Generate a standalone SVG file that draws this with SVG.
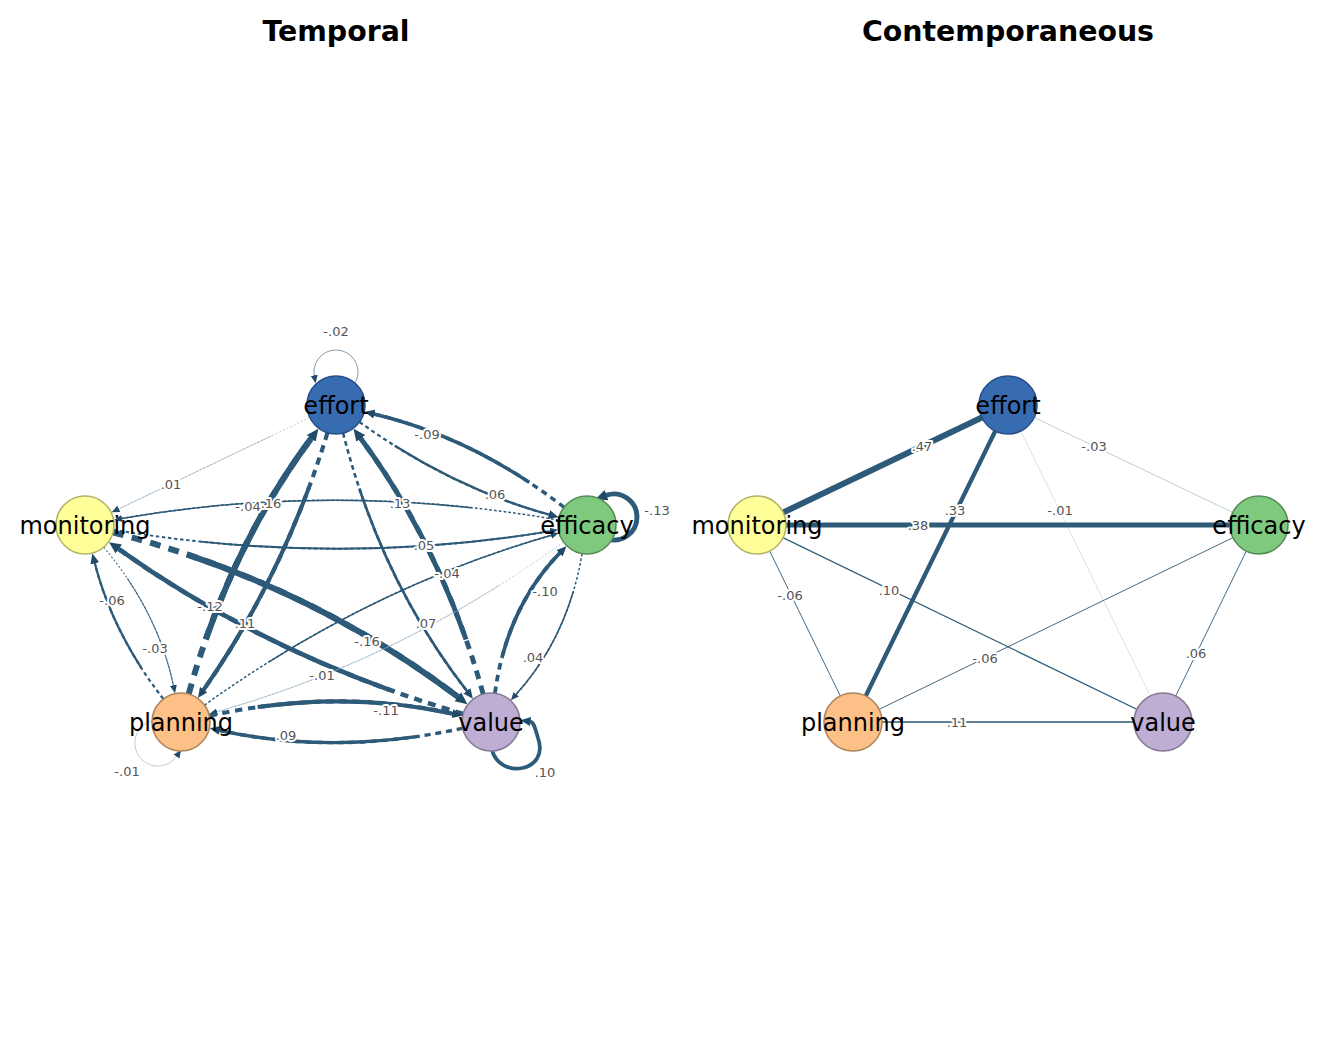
<svg xmlns="http://www.w3.org/2000/svg" width="1344" height="1056" viewBox="0 0 1344 1056">
<style>
.e{fill:none;stroke:#2d5a78;stroke-linecap:butt}
.l1{stroke:#8fa9bc}
.l2{stroke:#5f819b}
.l3{stroke:#46708d}
.l0{stroke:#c3ccd4}
.s20{stroke-dasharray:0 20 80 0}
.s25{stroke-dasharray:0 25 75 0}
.el{font-family:'DejaVu Sans',sans-serif;font-size:13px;fill:#555;text-anchor:middle;stroke:#fff;stroke-width:4px;stroke-linejoin:round;paint-order:stroke}
.nl{font-family:'DejaVu Sans',sans-serif;font-size:24px;fill:#000;text-anchor:middle}
.title{font-family:'DejaVu Sans',sans-serif;font-weight:bold;font-size:28.4px;text-anchor:middle;fill:#000}
.node{stroke-width:1.6}
</style>
<defs>
<marker id="a1" markerUnits="userSpaceOnUse" markerWidth="8" markerHeight="8" viewBox="0 0 8 8" refX="0.5" refY="4" orient="auto"><path d="M0,0.5 L8,4 L0,7.5 z" fill="#1f4a68"/></marker>
<marker id="a2" markerUnits="userSpaceOnUse" markerWidth="10" markerHeight="10" viewBox="0 0 10 10" refX="0.5" refY="5" orient="auto"><path d="M0,0.5 L10,5 L0,9.5 z" fill="#1f4a68"/></marker>
<marker id="a3" markerUnits="userSpaceOnUse" markerWidth="12" markerHeight="12" viewBox="0 0 12 12" refX="0.5" refY="6" orient="auto"><path d="M0,0.5 L12,6 L0,11.5 z" fill="#1f4a68"/></marker>
</defs>
<rect width="1344" height="1056" fill="#fff"/>
<text class="title" x="336" y="41">Temporal</text>
<text class="title" x="1008" y="41">Contemporaneous</text>

<g id="temporal-connectors">
  <!-- E->M .01 -->
  <path class="e l1" d="M309.8,417.5 L118.4,509.1" stroke-width="0.6" stroke-dasharray="2 2"/>
  <path class="e l1 s20" pathLength="100" d="M309.8,417.5 L118.4,509.1" stroke-width="0.6" marker-end="url(#a1)"/>
  <!-- F->M -.04 -->
  <path class="e" d="M558.4,520 Q336,481 121.4,518.6" stroke-width="1.5" stroke-dasharray="2.7 2.1"/>
  <path class="e s20" pathLength="100" d="M558.4,520 Q336,481 121.4,518.6" stroke-width="1.5" marker-end="url(#a1)"/>
  <!-- M->F .05 -->
  <path class="e" d="M113.6,529.8 Q336,567 550.5,531.1" stroke-width="1.9" stroke-dasharray="3.4 2.7"/>
  <path class="e s20" pathLength="100" d="M113.6,529.8 Q336,567 550.5,531.1" stroke-width="1.9" marker-end="url(#a1)"/>
  <!-- P->E .16 -->
  <path class="e" d="M188.7,694 Q228.9,549 311.5,437.9" stroke-width="6" stroke-dasharray="10.8 8.4"/>
  <path class="e s20" pathLength="100" d="M188.7,694 Q228.9,549 311.5,437.9" stroke-width="6" marker-end="url(#a3)"/>
  <!-- E->P .11 -->
  <path class="e" d="M327.5,432.7 Q283.6,575.8 203.4,690.1" stroke-width="4.1" stroke-dasharray="7.4 5.7"/>
  <path class="e s20" pathLength="100" d="M327.5,432.7 Q283.6,575.8 203.4,690.1" stroke-width="4.1" marker-end="url(#a2)"/>
  <!-- V->E .13 -->
  <path class="e" d="M483.2,694.1 Q442.8,549.2 360.4,438" stroke-width="4.9" stroke-dasharray="8.8 6.9"/>
  <path class="e s20" pathLength="100" d="M483.2,694.1 Q442.8,549.2 360.4,438" stroke-width="4.9" marker-end="url(#a3)"/>
  <!-- E->V .07 -->
  <path class="e" d="M343.1,433.1 Q380.3,579.7 467.1,691.2" stroke-width="2.6" stroke-dasharray="4.7 3.6"/>
  <path class="e s20" pathLength="100" d="M343.1,433.1 Q380.3,579.7 467.1,691.2" stroke-width="2.6" marker-end="url(#a2)"/>
  <!-- F->E -.09 -->
  <path class="e" d="M564.1,507.3 Q474.4,437.9 373.9,414" stroke-width="3.4" stroke-dasharray="6.1 4.8"/>
  <path class="e s20" pathLength="100" d="M564.1,507.3 Q474.4,437.9 373.9,414" stroke-width="3.4" marker-end="url(#a2)"/>
  <!-- E->F .06 -->
  <path class="e" d="M359.5,422 Q450.7,487.6 549.4,514.7" stroke-width="2.25" stroke-dasharray="4 3.2"/>
  <path class="e s20" pathLength="100" d="M359.5,422 Q450.7,487.6 549.4,514.7" stroke-width="2.25" marker-end="url(#a2)"/>
  <!-- M->V -.16 -->
  <path class="e" d="M113.1,532.3 Q307.7,583 458.3,697.2" stroke-width="6" stroke-dasharray="10.8 8.4"/>
  <path class="e s20" pathLength="100" d="M113.1,532.3 Q307.7,583 458.3,697.2" stroke-width="6" marker-end="url(#a3)"/>
  <!-- V->M -.12 -->
  <path class="e" d="M463.2,713.9 Q271.4,657.7 118.4,548.8" stroke-width="4.5" stroke-dasharray="8.1 6.3"/>
  <path class="e s20" pathLength="100" d="M463.2,713.9 Q271.4,657.7 118.4,548.8" stroke-width="4.5" marker-end="url(#a3)"/>
  <!-- P->M -.06 -->
  <path class="e" d="M163.3,699 Q112.7,633.4 94.7,562.8" stroke-width="2.25" stroke-dasharray="4 3.2"/>
  <path class="e s25" pathLength="100" d="M163.3,699 Q112.7,633.4 94.7,562.8" stroke-width="2.25" marker-end="url(#a2)"/>
  <!-- M->P -.03 -->
  <path class="e l3" d="M103.7,547.2 Q157.9,611.4 173.5,685.8" stroke-width="1.1" stroke-dasharray="2 2"/>
  <path class="e l3 s25" pathLength="100" d="M103.7,547.2 Q157.9,611.4 173.5,685.8" stroke-width="1.1" marker-end="url(#a1)"/>
  <!-- P->F -.04 -->
  <path class="e" d="M204.5,705.1 Q367,588.4 551.4,535.2" stroke-width="1.5" stroke-dasharray="2.7 2.1"/>
  <path class="e s20" pathLength="100" d="M204.5,705.1 Q367,588.4 551.4,535.2" stroke-width="1.5" marker-end="url(#a1)"/>
  <!-- F->P -.01 -->
  <path class="e l1" d="M563.5,542 Q401.5,659.5 216.6,711.9" stroke-width="0.6" stroke-dasharray="2 2"/>
  <path class="e l1 s20" pathLength="100" d="M563.5,542 Q401.5,659.5 216.6,711.9" stroke-width="0.6" marker-end="url(#a1)"/>
  <!-- V->F -.10 -->
  <path class="e" d="M494.9,693.3 Q506.6,607.7 559.8,553" stroke-width="3.75" stroke-dasharray="6.75 5.25"/>
  <path class="e s25" pathLength="100" d="M494.9,693.3 Q506.6,607.7 559.8,553" stroke-width="3.75" marker-end="url(#a2)"/>
  <!-- F->V .04 -->
  <path class="e" d="M582.1,553.6 Q567.8,637.5 515.9,694.6" stroke-width="1.5" stroke-dasharray="2.7 2.1"/>
  <path class="e s25" pathLength="100" d="M582.1,553.6 Q567.8,637.5 515.9,694.6" stroke-width="1.5" marker-end="url(#a1)"/>
  <!-- P->V -.11 -->
  <path class="e" d="M209.3,715.8 Q336,688 452.9,713.7" stroke-width="4.1" stroke-dasharray="7.4 5.7"/>
  <path class="e s20" pathLength="100" d="M209.3,715.8 Q336,688 452.9,713.7" stroke-width="4.1" marker-end="url(#a2)"/>
  <!-- V->P .09 -->
  <path class="e" d="M462.7,728.2 Q336,756 219.1,730.3" stroke-width="3.4" stroke-dasharray="6.1 4.8"/>
  <path class="e s20" pathLength="100" d="M462.7,728.2 Q336,756 219.1,730.3" stroke-width="3.4" marker-end="url(#a2)"/>
  <!-- self loops -->
  <path class="e l2" d="M352.9,386.1 A22,22 0 1 0 314.3,375.8" stroke-width="0.8" marker-end="url(#a1)"/>
  <path class="e" d="M606.1,538.6 A23,23 0 1 0 606.1,495.4" stroke-width="4.9" marker-end="url(#a3)"/>
  <path class="e l1" d="M154,720.4 A23,23 0 1 0 176.8,756.2" stroke-width="0.6" marker-end="url(#a1)"/>
  <path class="e" d="M492,750 C500,780 550,772 538,738 C535,728 534,722 530,721.5" stroke-width="3.75" marker-end="url(#a2)"/>
</g>

<g id="temporal-edge-labels">
  <text class="el" x="336" y="335.5">-.02</text>
  <text class="el" x="171" y="488.5">.01</text>
  <text class="el" x="248" y="510.5">-.04</text>
  <text class="el" x="271" y="507.5">.16</text>
  <text class="el" x="400" y="507.5">.13</text>
  <text class="el" x="427" y="438.5">-.09</text>
  <text class="el" x="495" y="498.5">.06</text>
  <text class="el" x="424" y="549.5">.05</text>
  <text class="el" x="447" y="577.5">-.04</text>
  <text class="el" x="545" y="595.5">-.10</text>
  <text class="el" x="533" y="661.5">.04</text>
  <text class="el" x="210" y="610.5">-.12</text>
  <text class="el" x="245" y="627.5">.11</text>
  <text class="el" x="367" y="645.5">-.16</text>
  <text class="el" x="426" y="627.5">.07</text>
  <text class="el" x="322" y="679.5">-.01</text>
  <text class="el" x="112" y="604.5">-.06</text>
  <text class="el" x="155" y="652.5">-.03</text>
  <text class="el" x="386" y="714.5">-.11</text>
  <text class="el" x="286" y="739.5">.09</text>
  <text class="el" x="127" y="775.5">-.01</text>
  <text class="el" x="545" y="776.5">.10</text>
  <text class="el" x="657" y="514.5">-.13</text>
</g>

<g id="t-effort"><circle class="node" cx="336" cy="405" r="29" fill="#386CB0" stroke="#27508a"/><text class="nl" x="336" y="413.5">effort</text></g>
<g id="t-monitoring"><circle class="node" cx="85" cy="525" r="29" fill="#FFFF99" stroke="#b3b36b"/><text class="nl" x="85" y="533.5">monitoring</text></g>
<g id="t-efficacy"><circle class="node" cx="587" cy="525" r="29" fill="#7FC97F" stroke="#568c56"/><text class="nl" x="587" y="533.5">efficacy</text></g>
<g id="t-planning"><circle class="node" cx="181" cy="722" r="29" fill="#FDC086" stroke="#ad845c"/><text class="nl" x="181" y="730.5">planning</text></g>
<g id="t-value"><circle class="node" cx="491" cy="722" r="29" fill="#BEAED4" stroke="#857a94"/><text class="nl" x="491" y="730.5">value</text></g>

<g id="contemporaneous-connectors">
  <line class="e" x1="1008" y1="405" x2="757" y2="525" stroke-width="6"/>
  <line class="e l1" x1="1008" y1="405" x2="1259" y2="525" stroke-width="0.6"/>
  <line class="e" x1="1008" y1="405" x2="853" y2="722" stroke-width="4.3"/>
  <line class="e l0" x1="1008" y1="405" x2="1163" y2="722" stroke-width="0.6"/>
  <line class="e" x1="757" y1="525" x2="1259" y2="525" stroke-width="5"/>
  <line class="e" x1="757" y1="525" x2="853" y2="722" stroke-width="0.9"/>
  <line class="e" x1="757" y1="525" x2="1163" y2="722" stroke-width="1.3"/>
  <line class="e" x1="853" y1="722" x2="1259" y2="525" stroke-width="0.9"/>
  <line class="e" x1="1259" y1="525" x2="1163" y2="722" stroke-width="0.9"/>
  <line class="e" x1="853" y1="722" x2="1163" y2="722" stroke-width="1.5"/>
</g>

<g id="contemporaneous-edge-labels">
  <text class="el" x="922" y="450.5">.47</text>
  <text class="el" x="1094" y="450.5">-.03</text>
  <text class="el" x="955" y="514.5">.33</text>
  <text class="el" x="1060" y="514.5">-.01</text>
  <text class="el" x="918" y="529.5">.38</text>
  <text class="el" x="790" y="599.5">-.06</text>
  <text class="el" x="889" y="594.5">.10</text>
  <text class="el" x="985" y="662.5">-.06</text>
  <text class="el" x="1196" y="657.5">.06</text>
  <text class="el" x="957" y="726.5">.11</text>
</g>

<g id="c-effort"><circle class="node" cx="1008" cy="405" r="29" fill="#386CB0" stroke="#27508a"/><text class="nl" x="1008" y="413.5">effort</text></g>
<g id="c-monitoring"><circle class="node" cx="757" cy="525" r="29" fill="#FFFF99" stroke="#b3b36b"/><text class="nl" x="757" y="533.5">monitoring</text></g>
<g id="c-efficacy"><circle class="node" cx="1259" cy="525" r="29" fill="#7FC97F" stroke="#568c56"/><text class="nl" x="1259" y="533.5">efficacy</text></g>
<g id="c-planning"><circle class="node" cx="853" cy="722" r="29" fill="#FDC086" stroke="#ad845c"/><text class="nl" x="853" y="730.5">planning</text></g>
<g id="c-value"><circle class="node" cx="1163" cy="722" r="29" fill="#BEAED4" stroke="#857a94"/><text class="nl" x="1163" y="730.5">value</text></g>
</svg>
